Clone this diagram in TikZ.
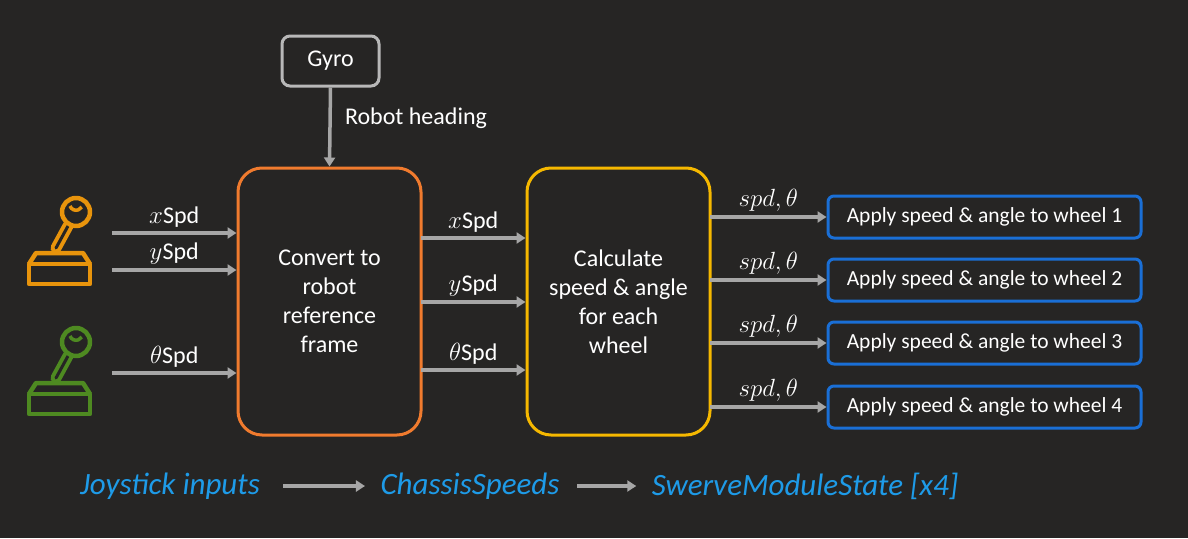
\documentclass[tikz,border=0pt]{standalone}
\usepackage{fontspec}
\setmainfont{Carlito}
\usetikzlibrary{arrows.meta}
\definecolor{bg}{HTML}{262524}
\definecolor{arr}{HTML}{A6A6A6}
\definecolor{orng}{HTML}{F07B2E}
\definecolor{yel}{HTML}{F5B800}
\definecolor{blu}{HTML}{1A6FD6}
\definecolor{sky}{HTML}{1E9BE8}
\definecolor{joyo}{HTML}{E8940C}
\definecolor{joyg}{HTML}{4E8A21}
\begin{document}
\begin{tikzpicture}[x=1pt,y=-1pt,
  box/.style={draw,line width=3pt,rounded corners=24pt,fill=bg,text=white,align=center,font=\fontsize{24}{29}\selectfont},
  wbox/.style={draw=blu,line width=3pt,rounded corners=6pt,minimum width=313pt,minimum height=42pt,text=white,font=\fontsize{21.5}{24}\selectfont},
  ar/.style={draw=arr,line width=3.5pt,-{Triangle[length=9pt,width=11pt]}},
  lbl/.style={text=white,font=\fontsize{24}{26}\selectfont},
  ml/.style={text=white,font=\fontsize{26}{28}\selectfont},
  bl/.style={text=sky,font=\fontsize{31}{33}\selectfont\itshape}]
\fill[bg] (0,0) rectangle (1188,538);
\useasboundingbox (0,0) rectangle (1188,538);
\node[box,draw=arr!80,rounded corners=8pt,minimum width=97pt,minimum height=50pt] (gyro) at (330.5,61) {Gyro};
\node[lbl] (rh) at (416,118) {Robot heading};
\node[box,draw=orng,minimum width=183pt,minimum height=267pt] (conv) at (329.5,301.5) {Convert to\\robot\\reference\\frame};
\node[box,draw=yel,minimum width=183pt,minimum height=267pt] (calc) at (618.5,301.5) {Calculate\\speed \& angle\\for each\\wheel};
\draw[ar] (gyro.south) -- (conv.north);
% joysticks
\foreach \dy/\c [count=\i] in {0/joyo,130/joyg}{
  \begin{scope}[yshift=-\dy pt,draw=\c,line width=4.5pt,line join=round]
    \draw (29,264) rectangle (90,284);
    \draw (29,264) -- (36,253) -- (83,253) -- (90,264);
    \draw[line cap=round,line width=11pt] (56,248) -- (68,226);
    \draw[line cap=round,line width=3pt,draw=bg] (56,248) -- (68,226);
    \draw[fill=bg] (76,212) circle (14);
    \draw[line width=3.5pt] (70,206) arc (160:30:6.5);
  \end{scope}}
\coordinate (j1) at (112,233); \coordinate (j2) at (112,270); \coordinate (j3) at (112,373);
\draw[ar] (j1) -- (j1-|conv.west) node[ml,midway,above=1pt] {$x$\fontsize{24}{26}\selectfont Spd};
\draw[ar] (j2) -- (j2-|conv.west) node[ml,midway,above=1pt] {$y$\fontsize{24}{26}\selectfont Spd};
\draw[ar] (j3) -- (j3-|conv.west) node[ml,midway,above=1pt] {$\theta$\fontsize{24}{26}\selectfont Spd};
\foreach \y/\t in {238/x,302/y,370/\theta}{
  \coordinate (m) at (421,\y);
  \draw[ar] (m) -- (m-|calc.west) node[ml,midway,above=1pt] {$\t$\fontsize{24}{26}\selectfont Spd};}
\foreach \y [count=\i] in {217,280,343,407}{
  \node[wbox] (w\i) at (984.5,\y) {Apply speed \& angle to wheel \i};
  \coordinate (o\i) at (710,\y);
  \draw[ar] (o\i) -- (w\i.west) node[ml,midway,above=1pt] {$spd,\theta$};}
\node[bl] (ji) at (170,486) {Joystick inputs};
\node[bl] (cs) at (470,486) {ChassisSpeeds};
\node[bl] (sm) at (805,486) {SwerveModuleState [x4]};
\draw[ar] ([xshift=20pt]ji.east) -- ([xshift=-12pt]cs.west);
\draw[ar] ([xshift=14pt]cs.east) -- ([xshift=-12pt]sm.west);
\end{tikzpicture}
\end{document}
